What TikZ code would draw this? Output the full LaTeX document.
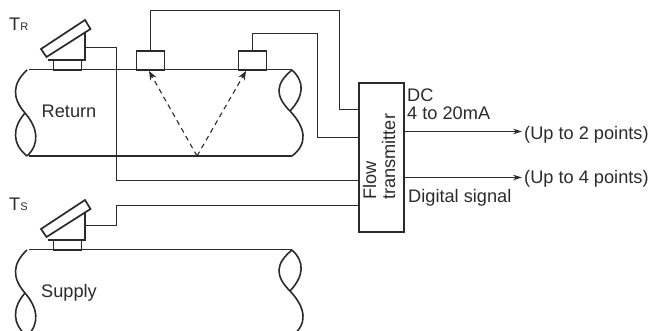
\documentclass[tikz,border=0pt]{standalone}
\usepackage{fontspec}
\setmainfont{Liberation Sans}
\usetikzlibrary{arrows.meta}
\definecolor{ink}{HTML}{2B2B2B}
\tikzset{
  lbl/.style={anchor=base west,inner sep=0pt,text=ink,font=\fontsize{18.2}{19}\selectfont},
  wire/.style={draw=ink,line width=1.15pt},
  thick line/.style={draw=ink,line width=1.7pt},
  thin line/.style={draw=ink,line width=1.6pt},
  box/.style={draw=ink,line width=1.8pt,fill=white,inner sep=0pt,anchor=north west},
  flowbox/.style={box,minimum width=45pt,minimum height=149pt},
  clamp/.style={box,minimum width=28pt,minimum height=19pt},
  basebox/.style={draw=ink,line width=1.4pt,fill=white,inner sep=0pt,anchor=north west,minimum width=28pt,minimum height=9.5pt},
  beam/.style={draw=ink,line width=1.1pt,dash pattern=on 5pt off 4pt},
  tipa/.style={-{Stealth[length=9pt,width=7pt]}},
  outline/.style={draw=ink,line width=1.15pt,-{Stealth[length=9pt,width=5.5pt]}}
}
\newcommand{\sensor}[1]{%
  \begin{scope}[yshift=#1]
    \draw[thick line,fill=white] (48,60) -- (85,60) -- (85,29);
    \draw[thick line,fill=white] (41,49) -- (85,20) -- (90.5,29) -- (46.5,57) -- cycle;
  \end{scope}}
\newcommand{\pipewaves}[1]{%
  \begin{scope}[yshift=#1]
    \draw[thin line] (27,70) .. controls (12,84) and (12,98) .. (25,113)
       .. controls (38,128) and (40,144) .. (27,156);
    \draw[thin line] (25,113) .. controls (12,128) and (12,144) .. (27,156);
    \draw[thin line] (292,70) .. controls (275,84) and (275,96) .. (290,111)
       .. controls (306,128) and (308,144) .. (292,156);
    \draw[thin line] (292,70) .. controls (305,82) and (304,96) .. (290,111);
  \end{scope}}
\begin{document}
\begin{tikzpicture}[x=1pt,y=-1pt]
\useasboundingbox (0,0) rectangle (651,331);
\begin{scope}
\clip (0,0) rectangle (651,331);
% pipes
\pipewaves{0pt}
\pipewaves{-180pt}
\draw[thin line] (29,69.5) -- (292,69.5);
\draw[thick line,line width=2pt] (29,156) -- (292,156);
\draw[thin line] (29,249.5) -- (292,249.5);
\end{scope}
% transducers
\node[basebox] (bR) at (52.5,60) {};
\node[basebox] (bS) at (52.5,240) {};
\sensor{0pt}
\sensor{-180pt}
\node[clamp] (c1) at (135.5,50.5) {};
\node[clamp] (c2) at (237.5,50.5) {};
% transmitter
\node[flowbox] (ft) at (358,82) {};
\coordinate (pR) at (85,47.5);
\coordinate (pS) at (85,225.5);
\coordinate (vb) at (197,156);
\coordinate (ta) at (149,71);
\coordinate (tb) at (246,71);
\coordinate (o1s) at (ft.east |- 0,131.5);
\coordinate (o2s) at (ft.east |- 0,177.5);
\coordinate (o1e) at (522,131.5);
\coordinate (o2e) at (522,177.5);
% wiring
\draw[wire] (c1.north) -- (c1.north |- 0,10.5) -- (339.5,10.5) -- (339.5,109.5) -- (ft.west |- 0,109.5);
\draw[wire] (c2.north) -- (c2.north |- 0,33.5) -- (317.5,33.5) -- (317.5,137.5) -- (ft.west |- 0,137.5);
\draw[wire] (pR) -- (116.5,47.5) -- (116.5,180.5) -- (ft.west |- 0,180.5);
\draw[wire] (pS) -- (116.5,225.5) -- (116.5,205.5) -- (ft.west |- 0,205.5);
% ultrasonic path
\draw[beam,tipa] (vb) -- (ta);
\draw[beam,tipa] (vb) -- (tb);
% outputs
\draw[outline] (o1s) -- (o1e);
\draw[outline] (o2s) -- (o2e);
% labels
\node[lbl] (tR) at (9,30.7) {T\fontsize{11}{11}\selectfont R};
\node[lbl] (tS) at (9,210.7) {T\fontsize{11}{11}\selectfont S};
\node[lbl] (ret) at (41.5,118) {Return};
\node[lbl] (sup) at (41,298) {Supply};
\node[lbl,rotate=90] (fl) at (376,200) {Flow};
\node[lbl,rotate=90] (tr) at (395,200) {transmitter};
\node[lbl] (dc) at (407,101.7) {DC};
\node[lbl] (ma) at (407,120) {4 to 20mA};
\node[lbl] (up2) at (524,139.3) {(Up to 2 points)};
\node[lbl] (up4) at (524,183.3) {(Up to 4 points)};
\node[lbl] (dig) at (408,202.7) {Digital signal};
\end{tikzpicture}
\end{document}
